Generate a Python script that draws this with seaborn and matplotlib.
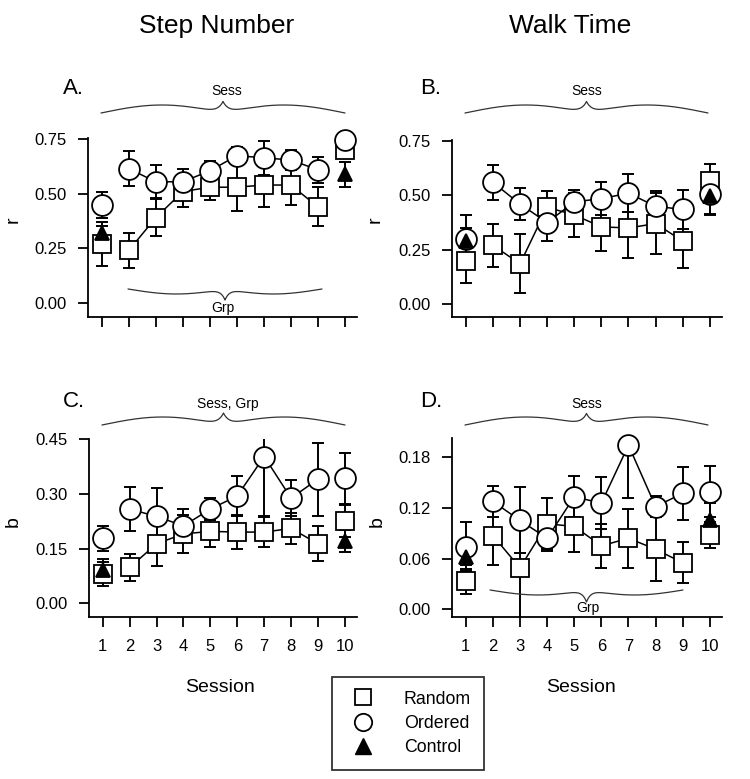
import numpy as np
import pandas as pd
import matplotlib
matplotlib.use("Agg")
import matplotlib.pyplot as plt
import seaborn as sns
from matplotlib.lines import Line2D

# ---------------- data ----------------
sessions = [1, 2, 3, 4, 5, 6, 7, 8, 9, 10]
control_sessions = [1, 10]
groups = ["Random", "Ordered", "Control"]

# Panel A : Step Number, r
A_random = [0.27, 0.24, 0.39, 0.51, 0.53, 0.53, 0.54, 0.54, 0.44, 0.70]
A_random_se = [0.10, 0.08, 0.085, 0.07, 0.06, 0.11, 0.10, 0.09, 0.09, 0.03]
A_ordered = [0.45, 0.615, 0.555, 0.555, 0.605, 0.675, 0.665, 0.655, 0.61, 0.745]
A_ordered_se = [0.06, 0.08, 0.075, 0.06, 0.045, 0.04, 0.077, 0.045, 0.06, 0.03]
A_control = [0.32, 0.59]
A_control_se = [0.03, 0.057]

# Panel B : Walk Time, r
B_random = [0.20, 0.27, 0.185, 0.445, 0.41, 0.355, 0.35, 0.37, 0.29, 0.565]
B_random_se = [0.105, 0.10, 0.135, 0.075, 0.10, 0.11, 0.14, 0.14, 0.125, 0.08]
B_ordered = [0.30, 0.56, 0.46, 0.375, 0.47, 0.485, 0.51, 0.45, 0.435, 0.505]
B_ordered_se = [0.11, 0.08, 0.072, 0.085, 0.055, 0.075, 0.088, 0.07, 0.092, 0.095]
B_control = [0.29, 0.495]
B_control_se = [0.06, 0.08]

# Panel C : Step Number, b
C_random = [0.080, 0.098, 0.163, 0.19, 0.197, 0.195, 0.195, 0.205, 0.163, 0.225]
C_random_se = [0.033, 0.036, 0.06, 0.053, 0.044, 0.047, 0.04, 0.042, 0.048, 0.043]
C_ordered = [0.178, 0.258, 0.238, 0.212, 0.258, 0.294, 0.402, 0.288, 0.34, 0.343]
C_ordered_se = [0.035, 0.06, 0.078, 0.045, 0.03, 0.055, 0.164, 0.05, 0.10, 0.07]
C_control = [0.09, 0.17]
C_control_se = [0.03, 0.03]

# Panel D : Walk Time, b
D_random = [0.033, 0.087, 0.049, 0.101, 0.098, 0.075, 0.084, 0.071, 0.055, 0.088]
D_random_se = [0.015, 0.035, 0.06, 0.03, 0.03, 0.026, 0.035, 0.038, 0.024, 0.015]
D_ordered = [0.074, 0.1275, 0.105, 0.084, 0.133, 0.1255, 0.194, 0.1215, 0.137, 0.139]
D_ordered_se = [0.029, 0.018, 0.039, 0.015, 0.024, 0.031, 0.062, 0.012, 0.031, 0.03]
D_control = [0.062, 0.106]
D_control_se = [0.01, 0.02]

x_ticklabels = ["1", "2", "3", "4", "5", "6", "7", "8", "9", "10"]
r_ticks = [0.0, 0.25, 0.50, 0.75]
r_ticklabels = ["0.00", "0.25", "0.50", "0.75"]
bC_ticks = [0.0, 0.15, 0.30, 0.45]
bC_ticklabels = ["0.00", "0.15", "0.30", "0.45"]
bD_ticks = [0.0, 0.06, 0.12, 0.18]
bD_ticklabels = ["0.00", "0.06", "0.12", "0.18"]

column_titles = ["Step Number", "Walk Time"]
panel_letters = ["A.", "B.", "C.", "D."]


def seg_of(s):
    return "pre" if s == 1 else ("post" if s == 10 else "mid")


def panel_frame(rand, rand_se, ordd, ordd_se, ctrl, ctrl_se):
    rows = []
    for s, v, e in zip(sessions, rand, rand_se):
        rows.append(("Random", s, v, e, seg_of(s)))
    for s, v, e in zip(sessions, ordd, ordd_se):
        rows.append(("Ordered", s, v, e, seg_of(s)))
    for s, v, e in zip(control_sessions, ctrl, ctrl_se):
        rows.append(("Control", s, v, e, seg_of(s)))
    return pd.DataFrame(rows, columns=["group", "session", "value", "se", "seg"])


dfA = panel_frame(A_random, A_random_se, A_ordered, A_ordered_se, A_control, A_control_se)
dfB = panel_frame(B_random, B_random_se, B_ordered, B_ordered_se, B_control, B_control_se)
dfC = panel_frame(C_random, C_random_se, C_ordered, C_ordered_se, C_control, C_control_se)
dfD = panel_frame(D_random, D_random_se, D_ordered, D_ordered_se, D_control, D_control_se)

# ---------------- style ----------------
sns.set_theme(style="ticks")
plt.rcParams["font.family"] = ["Liberation Sans", "DejaVu Sans"]
plt.rcParams["text.color"] = "black"
plt.rcParams["axes.labelcolor"] = "black"
plt.rcParams["axes.linewidth"] = 1.3
plt.rcParams["xtick.major.width"] = 1.3
plt.rcParams["ytick.major.width"] = 1.3
plt.rcParams["xtick.major.size"] = 7.5
plt.rcParams["ytick.major.size"] = 7.5
plt.rcParams["xtick.color"] = "black"
plt.rcParams["ytick.color"] = "black"
plt.rcParams["xtick.labelcolor"] = "black"
plt.rcParams["ytick.labelcolor"] = "black"
plt.rcParams["axes.edgecolor"] = "black"

W, H = 750, 779
fig = plt.figure(figsize=(W / 100, H / 100), dpi=100)


def px_axes(l, t, r, b):
    return fig.add_axes([l / W, 1 - b / H, (r - l) / W, (b - t) / H])


axA = px_axes(88, 138, 357, 317)
axB = px_axes(452, 140, 722, 317)
axC = px_axes(89, 439, 357, 617)
axD = px_axes(452, 438, 722, 617)

marker_styles = {
    "Random": dict(marker="s", markersize=13.5, markerfacecolor="white"),
    "Ordered": dict(marker="o", markersize=15, markerfacecolor="white"),
    "Control": dict(marker="^", markersize=10.5, markerfacecolor="black"),
}


def draw_panel(ax, df, ylim, yticks, yticklabels, show_xlabels):
    for g in groups:
        d = df[df.group == g]
        ax.errorbar(d.session, d.value, yerr=d.se, fmt="none", ecolor="black",
                    elinewidth=1.4, capsize=4.2, capthick=1.4, zorder=2)
    for i, g in enumerate(groups):
        d = df[df.group == g]
        sns.lineplot(data=d, x="session", y="value", units="seg", estimator=None,
                     ax=ax, color="black", linewidth=1.1,
                     markeredgecolor="black", markeredgewidth=1.3,
                     zorder=3 + i, clip_on=False, legend=False,
                     **marker_styles[g])
    ax.set_xlim(0.49, 10.45)
    ax.set_ylim(*ylim)
    ax.set_xticks(sessions)
    if show_xlabels:
        ax.set_xticklabels(x_ticklabels, fontsize=12)
    else:
        ax.set_xticklabels([])
    ax.set_yticks(yticks)
    ax.set_yticklabels(yticklabels, fontsize=12)
    ax.tick_params(axis="y", pad=8, direction="out")
    ax.tick_params(axis="x", pad=8, direction="out")
    ax.set_xlabel("")
    ax.set_ylabel("")
    ax.spines["top"].set_visible(False)
    ax.spines["right"].set_visible(False)
    ax.grid(False)


draw_panel(axA, dfA, (-0.066, 0.756), r_ticks, r_ticklabels, False)
draw_panel(axB, dfB, (-0.06, 0.755), r_ticks, r_ticklabels, False)
draw_panel(axC, dfC, (-0.0376, 0.45), bC_ticks, bC_ticklabels, True)
draw_panel(axD, dfD, (-0.0091, 0.2025), bD_ticks, bD_ticklabels, True)

# ---------------- overlay (braces & texts, pixel coordinates) ----------------
ov = fig.add_axes([0, 0, 1, 1])
ov.set_xlim(0, W)
ov.set_ylim(H, 0)
ov.axis("off")
ov.patch.set_alpha(0)


def brace(x0, x1, yb, h_plat, h_tip, sign):
    t = np.linspace(0, 0.5, 250)
    yh = h_plat * np.sin(2 * np.pi * t) + h_tip * np.exp(-(0.5 - t) / 0.022)
    tt = np.concatenate([t, 1 - t[::-1][1:]])
    yy = np.concatenate([yh, yh[::-1][1:]])
    ov.plot(x0 + (x1 - x0) * tt, yb + sign * yy, color="#333333", lw=0.9)


brace(101, 345, 113, 8, 11.5, -1)
brace(128, 322, 289, 5, 11, 1)
brace(465, 708, 113, 8, 11.5, -1)
brace(102, 345, 425, 8, 12, -1)
brace(465, 708, 425, 8, 11.5, -1)
brace(490, 683, 590, 5, 12, 1)

small = 10
ov.text(227, 95, "Sess", ha="center", va="baseline", fontsize=small)
ov.text(223, 312, "Grp", ha="center", va="baseline", fontsize=small)
ov.text(587, 95, "Sess", ha="center", va="baseline", fontsize=small)
ov.text(228, 408, "Sess, Grp", ha="center", va="baseline", fontsize=small)
ov.text(587, 408, "Sess", ha="center", va="baseline", fontsize=small)
ov.text(588, 612, "Grp", ha="center", va="baseline", fontsize=small)

ov.text(217, 33, column_titles[0], ha="center", va="baseline", fontsize=19)
ov.text(570, 33, column_titles[1], ha="center", va="baseline", fontsize=19)

ov.text(63, 94, panel_letters[0], ha="left", va="baseline", fontsize=16)
ov.text(420, 94, panel_letters[1], ha="left", va="baseline", fontsize=16)
ov.text(63, 407, panel_letters[2], ha="left", va="baseline", fontsize=16)
ov.text(420, 407, panel_letters[3], ha="left", va="baseline", fontsize=16)

ov.text(13, 220, "r", ha="center", va="center", rotation=90, fontsize=14)
ov.text(375, 220, "r", ha="center", va="center", rotation=90, fontsize=14)
ov.text(13, 522, "b", ha="center", va="center", rotation=90, fontsize=14)
ov.text(377, 522, "b", ha="center", va="center", rotation=90, fontsize=14)

ov.text(220, 692, "Session", ha="center", va="baseline", fontsize=14)
ov.text(581, 692, "Session", ha="center", va="baseline", fontsize=14)

# ---------------- legend ----------------
handles = [
    Line2D([], [], ls="none", marker="s", markersize=12, markerfacecolor="white",
           markeredgecolor="black", markeredgewidth=1.3),
    Line2D([], [], ls="none", marker="o", markersize=12.5, markerfacecolor="white",
           markeredgecolor="black", markeredgewidth=1.3),
    Line2D([], [], ls="none", marker="^", markersize=12, markerfacecolor="black",
           markeredgecolor="black"),
]
leg = fig.legend(handles, groups, loc="center", bbox_to_anchor=(408 / W, 1 - 723.5 / H),
                 frameon=True, fancybox=False, edgecolor="black", fontsize=12.8,
                 handletextpad=1.3, labelspacing=0.42, borderpad=0.75,
                 handlelength=2.0, borderaxespad=0)
leg.get_frame().set_linewidth(1.3)

fig.savefig("out.png", dpi=100)
